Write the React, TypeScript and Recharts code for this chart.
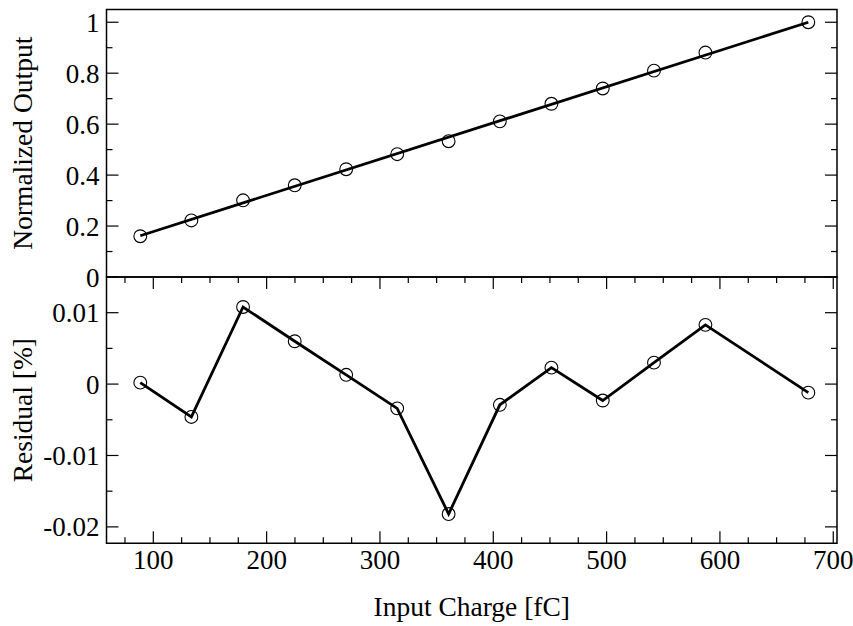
import React from 'react';
import { ComposedChart, Line, Scatter, XAxis, YAxis, ReferenceArea, Label } from 'recharts';

// ---- data ----
const inputCharge = [88.5, 133.6, 179.2, 224.8, 270.2, 315.2, 360.6, 405.8, 451.3, 496.6, 541.8, 587.2, 678];
const normalizedOutput = [0.16, 0.222, 0.301, 0.36, 0.423, 0.482, 0.533, 0.611, 0.68, 0.74, 0.81, 0.881, 1.0];
const residualValues = [0.0002, -0.0046, 0.0108, 0.006, 0.0013, -0.0034, -0.0182, -0.0029, 0.0023, -0.0023, 0.003, 0.0083, -0.0012];
const fitCharge = [88.5, 678];
const fitOutput = [0.162, 1.0];

const xDomain = [58.7, 703.3];
const topDomain = [0, 1.05];
const bottomDomain = [-0.0223, 0.015];

const xMajorTicks = [100, 200, 300, 400, 500, 600, 700];
const xMinorTicks = [75, 125, 150, 175, 225, 250, 275, 325, 350, 375, 425, 450, 475, 525, 550, 575, 625, 650, 675];
const xTickLabels = ['100', '200', '300', '400', '500', '600', '700'];

const topMajorTicks = [0, 0.2, 0.4, 0.6, 0.8, 1];
const topMinorTicks = [0.1, 0.3, 0.5, 0.7, 0.9];
const topTickLabels = ['0', '0.2', '0.4', '0.6', '0.8', '1'];

const bottomMajorTicks = [-0.02, -0.01, 0, 0.01];
const bottomMinorTicks = [-0.015, -0.005, 0.005];
const bottomTickLabels = ['-0.02', '-0.01', '0', '0.01'];

const xTitle = 'Input Charge [fC]';
const topTitle = 'Normalized Output';
const bottomTitle = 'Residual [%]';

// ---- derived tables ----
const topData = inputCharge.map((x, i) => ({ x, y: normalizedOutput[i] }));
const fitData = fitCharge.map((x, i) => ({ x, y: fitOutput[i] }));
const residualData = inputCharge.map((x, i) => ({ x, y: residualValues[i] }));
const xTicks = [...xMajorTicks, ...xMinorTicks].sort((a, b) => a - b);
const topTicks = [...topMajorTicks, ...topMinorTicks].sort((a, b) => a - b);
const bottomTicks = [...bottomMajorTicks, ...bottomMinorTicks].sort((a, b) => a - b);

const FONT = 'Liberation Serif, serif';
const TICK_FS = 27;
const TITLE_FS = 27.5;
const MAJOR = 12;
const MINOR = 6;

function makeYTick(majors: number[], labels: string[], side: 'left' | 'right') {
  return (p: any) => {
    const v = p.payload.value;
    const i = majors.indexOf(v);
    const len = i >= 0 ? MAJOR : MINOR;
    const dir = side === 'left' ? 1 : -1;
    return (
      <g>
        <line x1={p.x} x2={p.x + dir * len} y1={p.y} y2={p.y} stroke="#000" strokeWidth={1.2} />
        {side === 'left' && i >= 0 ? (
          <text x={p.x - 7} y={p.y} dy={9.5} textAnchor="end" fontFamily={FONT} fontSize={TICK_FS} fill="#000">
            {labels[i]}
          </text>
        ) : null}
      </g>
    );
  };
}

function makeXTick(majors: number[], labels: string[], side: 'bottom' | 'top') {
  return (p: any) => {
    const v = p.payload.value;
    const i = majors.indexOf(v);
    const len = i >= 0 ? MAJOR : MINOR;
    const dir = side === 'bottom' ? -1 : 1;
    return (
      <g>
        <line x1={p.x} x2={p.x} y1={p.y} y2={p.y + dir * len} stroke="#000" strokeWidth={1.2} />
        {side === 'bottom' && i >= 0 ? (
          <text x={p.x} y={p.y + 25.7} textAnchor="middle" fontFamily={FONT} fontSize={TICK_FS} fill="#000">
            {labels[i]}
          </text>
        ) : null}
      </g>
    );
  };
}

function makeYTitle(title: string) {
  return (p: any) => {
    const vb = p.viewBox || {};
    const x = vb.x + 32;
    const y = vb.y + vb.height / 2;
    return (
      <text x={x} y={y} textAnchor="middle" transform={`rotate(-90, ${x}, ${y})`} fontFamily={FONT} fontSize={TITLE_FS} fill="#000">
        {title}
      </text>
    );
  };
}

const renderXTitle = (p: any) => {
  const vb = p.viewBox || {};
  return (
    <text x={vb.x + vb.width / 2} y={vb.y + 72.7} textAnchor="middle" fontFamily={FONT} fontSize={TITLE_FS} fill="#000">
      {xTitle}
    </text>
  );
};

const circleShape = (p: any) => (
  <circle cx={p.cx} cy={p.cy} r={6.4} fill="none" stroke="#000" strokeWidth={1.1} />
);

const axisCommon = {
  axisLine: false,
  tickLine: false,
  tickSize: 0,
  tickMargin: 0,
  interval: 0 as const,
  allowDataOverflow: true,
};

export default function App() {
  return (
    <div style={{ position: 'absolute', left: 0, top: 0, width: 853, height: 626, background: '#fff', fontFamily: FONT }}>
      <div style={{ position: 'absolute', left: 0, top: 0 }}>
        <ComposedChart width={853} height={300} margin={{ top: 9.5, right: 15, bottom: 23, left: 0 }}>
          <XAxis xAxisId="b" type="number" dataKey="x" domain={xDomain} hide allowDataOverflow />
          <YAxis
            yAxisId="l"
            type="number"
            domain={topDomain}
            ticks={topTicks}
            width={106.5}
            tick={makeYTick(topMajorTicks, topTickLabels, 'left')}
            {...axisCommon}
          >
            <Label content={makeYTitle(topTitle)} />
          </YAxis>
          <YAxis
            yAxisId="r"
            orientation="right"
            type="number"
            domain={topDomain}
            ticks={topTicks}
            width={1}
            tick={makeYTick(topMajorTicks, topTickLabels, 'right')}
            {...axisCommon}
          />
          <ReferenceArea xAxisId="b" yAxisId="l" x1={xDomain[0]} x2={xDomain[1]} y1={topDomain[0]} y2={topDomain[1]} fill="none" stroke="#000" strokeWidth={1.5} ifOverflow="visible" />
          <Line xAxisId="b" yAxisId="l" data={fitData} dataKey="y" type="linear" stroke="#000" strokeWidth={2.8} dot={false} activeDot={false} isAnimationActive={false} />
          <Scatter xAxisId="b" yAxisId="l" data={topData} dataKey="y" shape={circleShape} isAnimationActive={false} />
        </ComposedChart>
      </div>
      <div style={{ position: 'absolute', left: 0, top: 0 }}>
        <ComposedChart width={853} height={626} margin={{ top: 276, right: 15, bottom: 81.7, left: 0 }}>
          <XAxis
            xAxisId="b"
            type="number"
            dataKey="x"
            domain={xDomain}
            ticks={xTicks}
            height={1}
            tick={makeXTick(xMajorTicks, xTickLabels, 'bottom')}
            {...axisCommon}
          >
            <Label content={renderXTitle} />
          </XAxis>
          <XAxis
            xAxisId="t"
            orientation="top"
            type="number"
            dataKey="x"
            domain={xDomain}
            ticks={xTicks}
            height={1}
            tick={makeXTick(xMajorTicks, xTickLabels, 'top')}
            {...axisCommon}
          />
          <YAxis
            yAxisId="l"
            type="number"
            domain={bottomDomain}
            ticks={bottomTicks}
            width={106.5}
            tick={makeYTick(bottomMajorTicks, bottomTickLabels, 'left')}
            {...axisCommon}
          >
            <Label content={makeYTitle(bottomTitle)} />
          </YAxis>
          <YAxis
            yAxisId="r"
            orientation="right"
            type="number"
            domain={bottomDomain}
            ticks={bottomTicks}
            width={1}
            tick={makeYTick(bottomMajorTicks, bottomTickLabels, 'right')}
            {...axisCommon}
          />
          <ReferenceArea xAxisId="b" yAxisId="l" x1={xDomain[0]} x2={xDomain[1]} y1={bottomDomain[0]} y2={bottomDomain[1]} fill="none" stroke="#000" strokeWidth={1.5} ifOverflow="visible" />
          <Line
            xAxisId="b"
            yAxisId="l"
            data={residualData}
            dataKey="y"
            type="linear"
            stroke="#000"
            strokeWidth={2.8}
            dot={{ r: 6.4, fill: 'none', stroke: '#000', strokeWidth: 1.1 }}
            activeDot={false}
            isAnimationActive={false}
          />
        </ComposedChart>
      </div>
    </div>
  );
}
